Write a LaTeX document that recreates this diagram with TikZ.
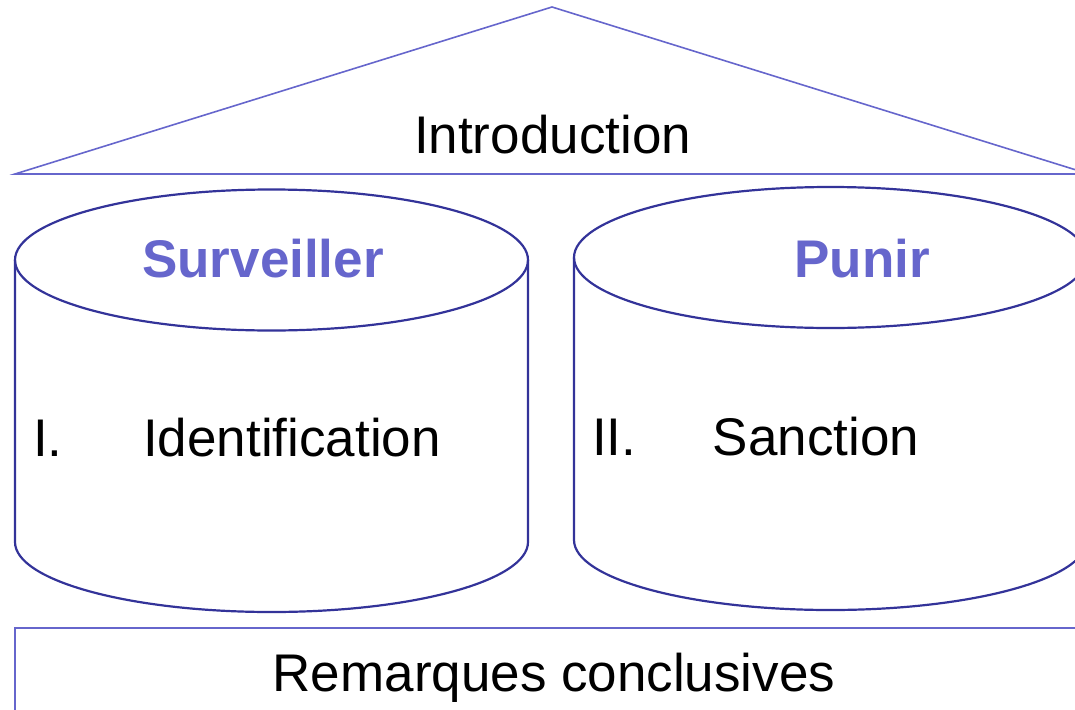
\documentclass[tikz,border=0pt]{standalone}
\usepackage{fontspec}
\setmainfont{Liberation Sans}
\definecolor{roofblue}{HTML}{6666CC}
\definecolor{pillarblue}{HTML}{333399}
\tikzset{
  roofline/.style={draw=roofblue, line width=1.6pt, line join=miter},
  pillarline/.style={draw=pillarblue, line width=2.2pt},
  basetext/.style={inner sep=0pt, font=\fontsize{53}{60}\selectfont, text=black},
  headtext/.style={inner sep=0pt, font=\fontsize{53}{60}\selectfont\bfseries, text=roofblue}
}
\begin{document}
\begin{tikzpicture}[x=1pt, y=-1pt]
  \path[use as bounding box] (0,0) rectangle (1075,709);
  \clip (0,0) rectangle (1075,709);

  % roof
  \draw[roofline] (15,174) -- (552,7) -- (1089,174) -- cycle;
  \node[basetext, anchor=base] (intro) at (552.5,153) {Introduction};

  % left pillar
  \draw[pillarline] (271.5,260) ellipse [x radius=256.5, y radius=70.5];
  \draw[pillarline] (15,260) -- (15,542) arc[start angle=180, end angle=0, x radius=256.5, y radius=70] -- (528,260);
  \node[headtext, anchor=base] (surv) at (263,277) {Surveiller};
  \node[basetext, anchor=base west] (num1) at (33,456) {I.};
  \node[basetext, anchor=base] (ident) at (292,456) {Identification};

  % right pillar
  \draw[pillarline] (830.5,257.5) ellipse [x radius=256.5, y radius=70.5];
  \draw[pillarline] (574,257.5) -- (574,540) arc[start angle=180, end angle=0, x radius=256.5, y radius=70] -- (1087,257.5);
  \node[headtext, anchor=base] (punir) at (862,277) {Punir};
  \node[basetext, anchor=base west] (num2) at (592,455) {II.};
  \node[basetext, anchor=base] (sanct) at (816,455) {Sanction};

  % foundation
  \draw[roofline, line width=1.8pt] (15,720) -- (15,628) -- (1090,628);
  \node[basetext, anchor=base] (concl) at (554,691) {Remarques conclusives};
\end{tikzpicture}
\end{document}
